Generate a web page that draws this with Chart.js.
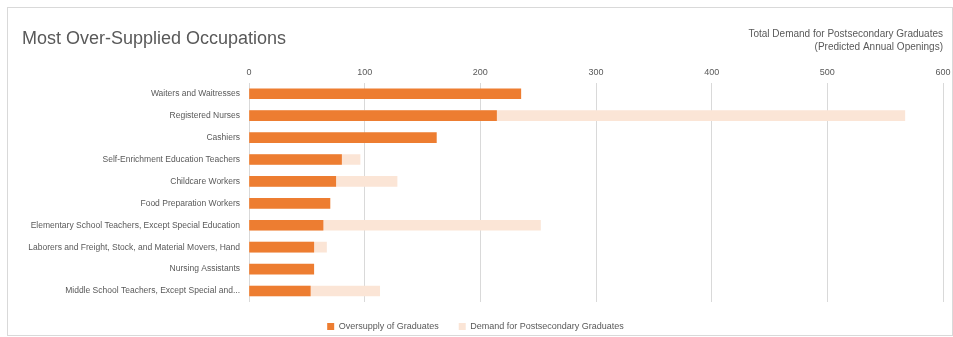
<!DOCTYPE html>
<html>
<head>
<meta charset="utf-8">
<script src="https://cdn.jsdelivr.net/npm/chart.js@4"></script>
<style>
  body { margin: 0; background: #fff; }
  #box { position: absolute; left: 7px; top: 7px; width: 944px; height: 327px; border: 1px solid #d9d9d9; }
  canvas { display: block; }
</style>
</head>
<body>
<div id="box"><canvas id="chartCanvas" width="944" height="327"></canvas></div>
<script>
// occupations, top to bottom
const occupations = [
  'Waiters and Waitresses',
  'Registered Nurses',
  'Cashiers',
  'Self-Enrichment Education Teachers',
  'Childcare Workers',
  'Food Preparation Workers',
  'Elementary School Teachers, Except Special Education',
  'Laborers and Freight, Stock, and Material Movers, Hand',
  'Nursing Assistants',
  'Middle School Teachers, Except Special and...'
];
const oversupply = [235, 214, 162, 80, 75, 70, 64, 56, 56, 53];
const demand = [0, 567, 0, 96, 128, 0, 252, 67, 0, 113];
const xTicks = [0, 100, 200, 300, 400, 500, 600];

const labelFont = "'Liberation Sans', sans-serif";
const grey = '#595959';

// main title drawn at top left
const titlePlugin = {
  id: 'mainTitle',
  afterDraw(chart) {
    const ctx = chart.ctx;
    ctx.save();
    ctx.font = "18px 'Liberation Sans', sans-serif";
    ctx.fillStyle = grey;
    ctx.textBaseline = 'middle';
    ctx.fillText('Most Over-Supplied Occupations', 14, 31);
    ctx.restore();
  }
};

const chartCanvas = document.getElementById('chartCanvas');
const myChart = new Chart(chartCanvas, {
  type: 'bar',
  data: {
    labels: occupations,
    datasets: [
      {
        label: 'Oversupply of Graduates',
        data: oversupply,
        backgroundColor: '#ED7D31',
        grouped: false,
        barThickness: 10
      },
      {
        label: 'Demand for Postsecondary Graduates',
        data: demand,
        backgroundColor: '#FBE5D6',
        grouped: false,
        barThickness: 10
      }
    ]
  },
  options: {
    indexAxis: 'y',
    responsive: false,
    animation: false,
    layout: { padding: { top: 20, right: 9, left: 0, bottom: -6 } },
    scales: {
      x: {
        position: 'top',
        min: 0,
        max: 600,
        afterBuildTicks: function(axis) {
          axis.ticks = xTicks.map(v => ({ value: v }));
        },
        // let the "600" label hang past the plot edge
        afterFit: function(axis) { axis.paddingRight = 0; },
        grid: { color: '#d9d9d9', drawTicks: false },
        border: { display: false },
        ticks: { color: grey, font: { family: labelFont, size: 9 }, padding: 5 },
        title: {
          display: true,
          align: 'end',
          text: ['Total Demand for Postsecondary Graduates', '(Predicted Annual Openings)'],
          color: grey,
          font: { family: labelFont, size: 10, lineHeight: 1.3 },
          padding: { top: 0, bottom: 8 }
        }
      },
      y: {
        grid: { display: false },
        border: { display: false },
        ticks: { color: grey, font: { family: labelFont, size: 8.5 }, padding: 1 },
        afterFit: function(axis) { axis.width = 241; }
      }
    },
    plugins: {
      legend: {
        position: 'bottom',
        labels: { color: grey, font: { family: labelFont, size: 9 }, boxWidth: 7, boxHeight: 7, padding: 20 }
      },
      tooltip: { enabled: false }
    }
  },
  plugins: [titlePlugin]
});
</script>
</body>
</html>
